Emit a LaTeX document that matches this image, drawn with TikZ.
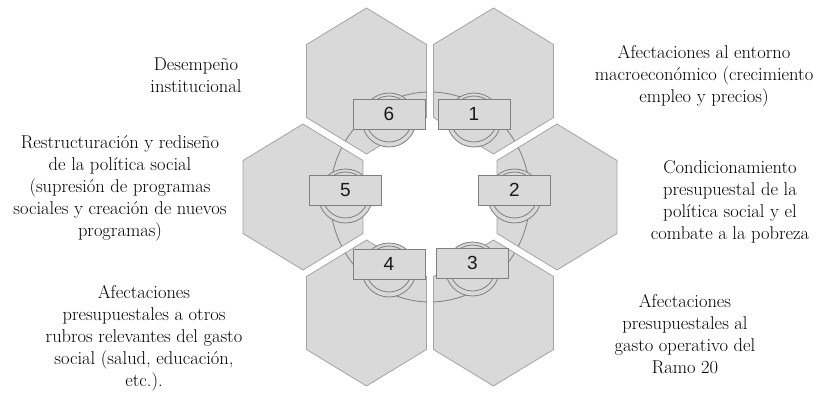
\documentclass[tikz,border=0pt]{standalone}
\usepackage{fontspec}
\newfontfamily\numfont{Liberation Sans}
\definecolor{hexgray}{HTML}{D9D9D9}
\definecolor{edgegray}{HTML}{A3A3A3}
\definecolor{linegray}{HTML}{7F7F7F}
% one stretched hexagon (pointy top) centred at (#1,#2)
\newcommand{\hexat}[2]{(#1,#2-73) -- (#1+60,#2-36.5) -- (#1+60,#2+36.5) -- (#1,#2+73) -- (#1-60,#2+36.5) -- (#1-60,#2-36.5) -- cycle}
\begin{document}
\begin{tikzpicture}[x=1pt,y=-1pt,
	hexcell/.style={fill=hexgray,draw=edgegray,line width=0.8pt},
	ringline/.style={draw=linegray,line width=0.8pt},
	numbox/.style={draw=linegray,fill=hexgray,line width=0.9pt,minimum width=72pt,minimum height=30pt,inner sep=0pt,font=\numfont\fontsize{19}{19}\selectfont,text=black!90},
	caption/.style={align=center,inner sep=0pt,text=black,font=\rmfamily\fontsize{18.5}{22}\selectfont}]
	\useasboundingbox (0,0) rectangle (825,396);
	% honeycomb ring
	\foreach \x/\y in {493.5/81,557/197,493.5/313,366.5/313,303/197,366.5/81}
		\draw[hexcell] \hexat{\x}{\y};
	% big ring, seen only on the hexagons
	\begin{scope}
		\clip \hexat{493.5}{81} \hexat{557}{197} \hexat{493.5}{313} \hexat{366.5}{313} \hexat{303}{197} \hexat{366.5}{81};
		\draw[ringline] (430,197) ellipse [x radius=100, y radius=105];
	\end{scope}
	% numbered boxes on their circles
	\foreach \i/\x/\y in {1/474/114,2/514.5/190,3/472.5/263,4/389/264,5/345.5/190,6/389/114} {
		\draw[ringline,fill=hexgray] (\x,\y+6) circle [radius=27];
		\draw[ringline] (\x,\y+5) circle [radius=23];
		\node[numbox] (b\i) at (\x,\y) {\i};
	}
	% captions
	\node[caption] (t1) at (704,76) {Afectaciones al entorno\\macroeconómico (crecimiento\\empleo y precios)};
	\node[caption] (t2) at (730,202) {Condicionamiento\\presupuestal de la\\política social y el\\combate a la pobreza};
	\node[caption] (t3) at (685,334) {Afectaciones\\presupuestales al\\gasto operativo del\\Ramo 20};
	\node[caption] (t4) at (144,338) {Afectaciones\\presupuestales a otros\\rubros relevantes del gasto\\social (salud, educación,\\etc.).};
	\node[caption] (t5) at (120,188) {Restructuración y rediseño\\de la política social\\(supresión de programas\\sociales y creación de nuevos\\programas)};
	\node[caption] (t6) at (196,75) {Desempeño\\institucional};
\end{tikzpicture}
\end{document}
